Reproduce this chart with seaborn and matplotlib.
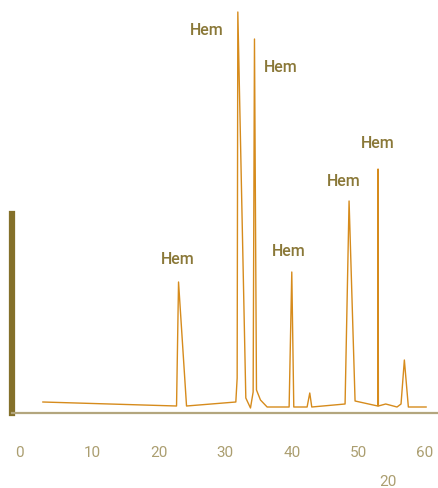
import matplotlib
matplotlib.use("Agg")
import matplotlib.pyplot as plt
import matplotlib.transforms as mtransforms
import seaborn as sns
import pandas as pd

# spectrum trace
retention = [2.6, 22.7, 23.0, 24.2, 31.6, 31.8, 31.9, 33.1, 33.8, 34.2, 34.4, 34.7,
             35.3, 36.3, 39.6, 40.0, 40.3, 42.3, 42.7, 43.0, 48.0, 48.6, 49.5,
             52.9, 52.95, 53.0, 54.1, 55.8, 56.4, 56.9, 57.5, 60.2]
intensity = [11, 7, 131, 7, 11, 35, 401, 15, 5, 21, 374, 23,
             13, 6, 6, 141, 6, 6, 20, 6, 9, 212, 12,
             7, 244, 7, 9, 6, 9, 53, 6, 6]

# labelled peaks (index into the trace) and label offsets in pixels
peak_idx = [6, 10, 2, 15, 21, 24]
peak_labels = ["Hem", "Hem", "Hem", "Hem", "Hem", "Hem"]
label_offsets = [(-31, -18), (26, -28), (-1, 23), (-3, 21), (-5, 20), (0, 26)]

x_ticks = [0, 10, 20, 30, 40, 50, 60]

sns.set_style("white")
plt.rcParams['font.family'] = ['Roboto', 'DejaVu Sans']

df = pd.DataFrame({"time": retention, "signal": intensity})

fig = plt.figure(figsize=(4.39, 4.88), dpi=100)
ax = fig.add_axes([12 / 439, 75 / 488, 427 / 439, 403 / 488])

sns.lineplot(data=df, x="time", y="signal", sort=False, color="#d68b1c",
             linewidth=1.0, ax=ax)

for i, lab, off in zip(peak_idx, peak_labels, label_offsets):
    ax.annotate(lab, (retention[i], intensity[i]), xytext=off,
                textcoords="offset pixels", ha="center", va="center",
                fontsize=11.5, fontweight="medium", color="#8a7838")

ax.set_xlim(-2.0, 62.1)
ax.set_ylim(0, 403)
ax.set_xticks(x_ticks)
ax.set_xticklabels([str(t) for t in x_ticks])
ax.set_yticks([])
ax.set_xlabel("")
ax.set_ylabel("")
ax.tick_params(axis="x", length=0, pad=24, labelsize=11, labelcolor="#ab9e70")
# the "0" label sits a little left of its tick in the original
first = ax.get_xticklabels()[0]
first.set_transform(first.get_transform() +
                    mtransforms.ScaledTranslation(-6 / 100, 0, fig.dpi_scale_trans))

for side in ["top", "right"]:
    ax.spines[side].set_visible(False)
ax.spines["bottom"].set_color("#b3a67e")
ax.spines["bottom"].set_linewidth(1.6)
ax.spines["left"].set_color("#84702a")
ax.spines["left"].set_linewidth(4.5)
ax.spines["left"].set_bounds(0, 199)

fig.text(388 / 439, 1 - 482 / 488, "20", ha="center", va="center",
         fontsize=11, color="#ab9e70")

plt.savefig("out.png", dpi=100)
